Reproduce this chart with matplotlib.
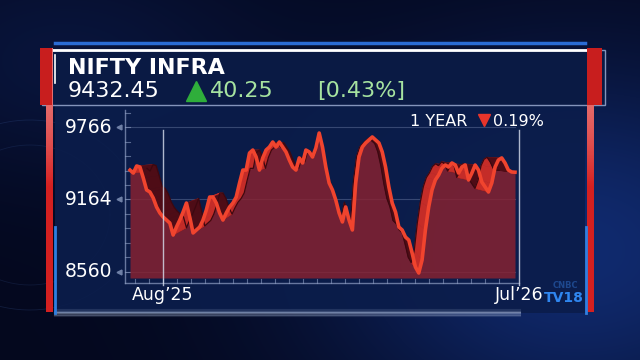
import numpy as np
import matplotlib.pyplot as plt
from matplotlib.patches import Rectangle
from matplotlib.collections import PolyCollection

plt.rcParams['font.family'] = ['DejaVu Sans']

# index name and header numbers
index_name = "NIFTY INFRA"
last_price = "9432.45"
change_pts = "40.25"
change_pct = "[0.43%]"
period_label = "1 YEAR"
period_pct = "0.19%"

# 1 year of closes
closes = [9408, 9383, 9442, 9433, 9342, 9242, 9225, 9175, 9100, 9050, 9016, 8991,
          8966, 8866, 8933, 8991, 9058, 9133, 9016, 8883, 8908, 8933, 8991, 9075,
          9183, 9183, 9133, 9050, 8991, 9050, 9100, 9133, 9183, 9300, 9408,
          9408, 9550, 9575, 9517, 9408, 9509, 9575, 9600, 9642, 9600, 9642, 9600,
          9559, 9492, 9433, 9408, 9509, 9467, 9575, 9559, 9517, 9592, 9717, 9600,
          9433, 9300, 9242, 9158, 9050, 8975, 9100, 8991, 8908, 9300, 9517, 9600,
          9634, 9659, 9684, 9659, 9634, 9559,
          9433, 9267, 9133, 9058, 8933, 8908, 8849, 8824, 8716, 8599, 8549, 8658,
          8908, 9100, 9242, 9325, 9367, 9425, 9450, 9433, 9467, 9450, 9383, 9433,
          9450, 9325, 9383, 9450, 9408, 9308, 9267, 9225, 9300, 9433, 9492, 9509,
          9467, 9408, 9392, 9390]
y_ticks = [8560, 9164, 9766]
x_labels = ["Aug\u201925", "Jul\u201926"]

W, H = 640, 360
fig = plt.figure(figsize=(6.4, 3.6), dpi=100)

# ---------- background layer in pixel coords ----------
bg = fig.add_axes([0, 0, 1, 1])
bg.set_xlim(0, W)
bg.set_ylim(H, 0)
bg.axis('off')

yy, xx = np.mgrid[0:H, 0:W]
base = np.array([4, 8, 30]) / 255
glow = np.array([16, 42, 110]) / 255
w = np.exp(-((xx - 580) / 260.0) ** 2 - ((yy - 250) / 190.0) ** 2)
w += 0.35 * np.exp(-((xx - 60) / 200.0) ** 2 - ((yy - 60) / 120.0) ** 2)
img = base + (glow - base) * np.clip(w, 0, 1)[..., None]
bg.imshow(img, extent=(0, W, H, 0), aspect='auto', zorder=0)

# faint ring on the left
t = np.linspace(0, 2 * np.pi, 200)
bg.plot(30 + 110 * np.cos(t), 215 + 95 * np.sin(t), color='#3a5a9a', lw=0.6, alpha=0.25, zorder=1)
bg.plot(30 + 80 * np.cos(t), 215 + 70 * np.sin(t), color='#3a5a9a', lw=0.6, alpha=0.2, zorder=1)

# chart panel and header panel
bg.add_patch(Rectangle((55, 105), 530, 208, fc='#0b1d4b', ec='none', alpha=0.92, zorder=2))
bg.add_patch(Rectangle((42, 50), 563, 55, fc='#0a1a44', ec='#8494bb', lw=1, zorder=3))
bg.plot([45, 592], [50, 50], color='white', lw=2, zorder=4)
bg.plot([55, 585], [43, 43], color='#2a6cd4', lw=2.5, zorder=4)
bg.plot([55, 55], [55, 83], color='white', lw=1.2, zorder=4)

# bottom glow
for i, a in enumerate([0.15, 0.3, 0.5, 0.3, 0.15]):
    bg.plot([55, 520], [310 + i * 1.5, 310 + i * 1.5], color='#a8b8d8', lw=1.5, alpha=a, zorder=3)

# red side bars with lighter top
grad = np.linspace(0, 1, 100)[:, None, None]
top_c = np.array([232, 120, 120]) / 255
red_c = np.array([214, 32, 32]) / 255
bar_img = top_c + (red_c - top_c) * grad ** 2
for x0, hx0, hw in [(46, 40, 12), (587, 587, 15)]:
    bg.imshow(bar_img, extent=(x0, x0 + 7, 187, 48), aspect='auto', zorder=5)
    bg.add_patch(Rectangle((x0, 187), 7, 125, fc='#d42020', ec='none', zorder=5))
    bg.add_patch(Rectangle((hx0, 48), hw, 57, fc='#c81e1e', ec='none', zorder=5))
bg.plot([54.5, 54.5], [227, 313], color='#2f7fe0', lw=2, zorder=5)
bg.plot([585.5, 585.5], [227, 313], color='#2f7fe0', lw=2, zorder=5)

# header texts
bg.text(68, 68, index_name, color='white', fontsize=16, fontweight='bold', va='center', ha='left', zorder=6)
bg.text(68, 91, last_price, color='white', fontsize=16, va='center', ha='left', zorder=6)
bg.plot(196, 91, marker='^', ms=14, color='#2fae3b', zorder=6)
bg.text(210, 91, change_pts, color='#a6e3a0', fontsize=16, va='center', ha='left', zorder=6)
bg.text(317, 91, change_pct, color='#a6e3a0', fontsize=16, va='center', ha='left', zorder=6)

# 1 year label
bg.text(467, 121, period_label, color='white', fontsize=11.5, va='center', ha='right', zorder=6)
bg.plot(484, 120, marker='v', ms=9, color='#e8352b', zorder=6)
bg.text(493, 121, period_pct, color='white', fontsize=11.5, va='center', ha='left', zorder=6)

# logo
bg.text(565, 285, "CNBC", color='#2a64b8', fontsize=6, fontweight='bold', alpha=0.6, va='center', ha='center', zorder=6)
bg.text(564, 298, "TV18", color='#2f86f0', fontsize=10, fontweight='bold', va='center', ha='center', zorder=6)

# ---------- chart axes ----------
L, R, T, B = 100, 540, 108, 290
ax = fig.add_axes([L / W, 1 - B / H, (R - L) / W, (B - T) / H])
ax.set_facecolor('none')
ax.axis('off')

n = len(closes)
step = (515 - 130) / (n - 1)


def xpx(p):
    return (p - 130) / step


def ypx(p):
    return 9164 + (199.3 - p) * (604 / 72.4)


ax.set_xlim(xpx(L), xpx(R))
ax.set_ylim(ypx(B), ypx(T))

x = np.arange(n)
y = np.array(closes, dtype=float)

# grid, axes lines and ticks
for v in y_ticks:
    ax.plot([xpx(125), xpx(515)], [v, v], color='#8a9ac0', lw=0.8, alpha=0.35, zorder=1)
    ax.plot(xpx(119), v, marker='<', ms=3.5, color='#6f80a6', zorder=1)
    ax.text(xpx(112), v, str(v), color='white', fontsize=13.5, va='center', ha='right')
ax.plot([xpx(125), xpx(125)], [ypx(283), ypx(110)], color='#8f9fc4', lw=1, alpha=0.7)
ax.plot([xpx(125), xpx(519)], [ypx(283), ypx(283)], color='#8f9fc4', lw=1, alpha=0.7)
for v in np.arange(y_ticks[0], ypx(112), (y_ticks[2] - y_ticks[0]) / 10):
    ax.plot([xpx(125), xpx(130)], [v, v], color='#8f9fc4', lw=0.8, alpha=0.6)
for p in np.arange(135, 500, 14):
    ax.plot([xpx(p), xpx(p)], [ypx(283), ypx(279)], color='#8f9fc4', lw=0.8, alpha=0.6)

for p, lab in zip([163, 519], x_labels):
    ax.plot([xpx(p), xpx(p)], [ypx(130), ypx(285)], color='#d8e0f0', lw=1, alpha=0.8, zorder=5)
    ax.text(xpx(p), ypx(295), lab, color='white', fontsize=12.5, va='center', ha='center')

# area fill
ax.fill_between(x, y, ypx(278), color='#8a2230', alpha=0.82, lw=0, zorder=2)

# 3d ribbon: back edge pulled toward a vanishing point
cx, cy, k = xpx(330), ypx(150), 0.085
bx = x + k * (cx - x)
by = y + k * (cy - y)
polys, cols = [], []
for i in range(n - 1):
    polys.append([(x[i], y[i]), (x[i + 1], y[i + 1]), (bx[i + 1], by[i + 1]), (bx[i], by[i])])
    cols.append('#4e0c16' if y[i + 1] < y[i] else '#c42c28')
ax.add_collection(PolyCollection(polys, facecolors=cols, edgecolors=cols, lw=0.5, zorder=3))
ax.plot(bx, by, color='#3c0810', lw=0.9, zorder=3)

ax.plot(x, y, color='#f0442e', lw=2.6, solid_joinstyle='round', zorder=4)

fig.savefig('out.png', dpi=100)
